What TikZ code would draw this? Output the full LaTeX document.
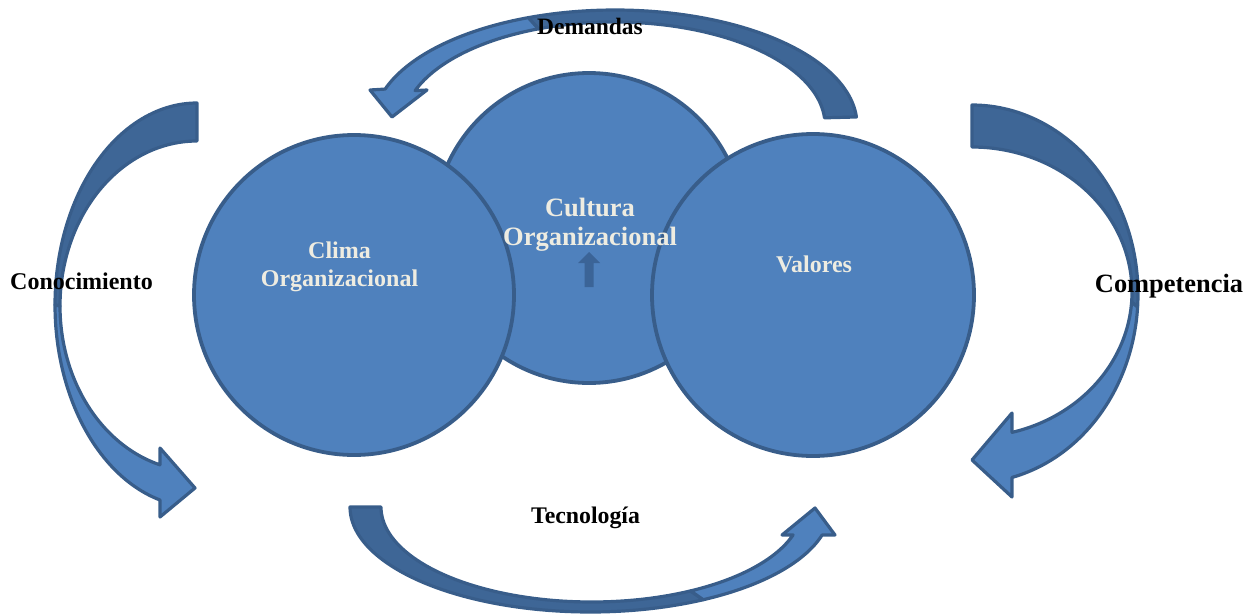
\documentclass[tikz,border=0pt]{standalone}
\usepackage{fontspec}
\setmainfont{Liberation Serif}
\definecolor{fillblue}{HTML}{4F81BD}
\definecolor{darkblue}{HTML}{3E6696}
\definecolor{lineblue}{HTML}{385D8A}
\definecolor{arrowin}{HTML}{3B6497}
\definecolor{txtlight}{HTML}{EEECE1}
\tikzset{
  bubble/.style={circle, fill=fillblue, draw=lineblue, line width=3.8pt, inner sep=0pt},
  backband/.style={fill=darkblue, draw=lineblue, line width=3.2pt, line join=round},
  frontband/.style={fill=fillblue, draw=lineblue, line width=3.2pt, line join=round},
  outlabel/.style={font=\bfseries, text=black, anchor=base, inner sep=0pt},
  inlabel/.style={font=\bfseries, text=txtlight, anchor=base, inner sep=0pt}
}
\begin{document}
\begin{tikzpicture}[x=1pt, y=-1pt]
\path[use as bounding box] (0,0) rectangle (1260,613);

% ---- top arrow (Demandas), tail right, head left
\path[backband] plot[domain=-4:-111, samples=60, variable=\t] ({615+242*cos(\t)},{125+115*sin(\t)})
  -- plot[domain=-111:-4, samples=60, variable=\t] ({614+211*cos(\t)},{125+103*sin(\t)}) -- cycle;
\path[frontband] plot[domain=-111:-161.8, samples=40, variable=\t] ({615+242*cos(\t)},{125+115*sin(\t)})
  -- (370,90) -- (392,117) -- (427,90)
  -- plot[domain=-160.5:-111, samples=40, variable=\t] ({614+211*cos(\t)},{125+103*sin(\t)}) -- cycle;

% ---- left arrow (Conocimiento), tail top, head bottom right
\path[backband] plot[domain=270:180, samples=60, variable=\t] ({197+142*cos(\t)},{305+202*sin(\t)})
  -- plot[domain=180:270, samples=60, variable=\t] ({197+137*cos(\t)},{306+165*sin(\t)}) -- cycle;
\path[frontband] plot[domain=180:105.1, samples=50, variable=\t] ({197+142*cos(\t)},{305+202*sin(\t)})
  -- (160,517) -- (195,488) -- (160,448)
  -- plot[domain=105.7:180, samples=50, variable=\t] ({197+137*cos(\t)},{306+165*sin(\t)}) -- cycle;

% ---- right arrow (Competencia), tail top, head bottom left
\path[backband] plot[domain=-90:4, samples=60, variable=\t] ({972+166*cos(\t)},{294+189*sin(\t)})
  -- plot[domain=4:-90, samples=60, variable=\t] ({972+160*cos(\t)},{292+145*sin(\t)}) -- cycle;
\path[frontband] plot[domain=4:76.05, samples=50, variable=\t] ({972+166*cos(\t)},{294+189*sin(\t)})
  -- (1012,497) -- (972,460) -- (1012,413)
  -- plot[domain=75.5:4, samples=50, variable=\t] ({972+160*cos(\t)},{292+145*sin(\t)}) -- cycle;

% ---- bottom arrow (Tecnologia), tail left, head right
\path[backband] plot[domain=180:62, samples=60, variable=\t] ({590.4+240.4*cos(\t)},{507+105*sin(\t)})
  -- plot[domain=62:180, samples=60, variable=\t] ({591.7+210.7*cos(\t)},{507+95*sin(\t)}) -- cycle;
\path[frontband] plot[domain=62:15.5, samples=40, variable=\t] ({590.4+240.4*cos(\t)},{507+105*sin(\t)})
  -- (835,535) -- (815,508) -- (782,535)
  -- plot[domain=17.1:62, samples=40, variable=\t] ({591.7+210.7*cos(\t)},{507+95*sin(\t)}) -- cycle;

% ---- circles
\node[bubble, minimum size=310pt] (cultura) at (589,228) {};
\node[bubble, minimum size=320pt] (clima) at (354,295) {};
\node[bubble, minimum size=322pt] (valores) at (813,295) {};

% small up arrow in Cultura
\fill[arrowin] (589,252) -- (600,263) -- (593.5,263) -- (593.5,287) -- (584.5,287) -- (584.5,263) -- (578,263) -- cycle;

% ---- circle texts
\node[inlabel, font=\fontsize{26.5}{30}\selectfont\bfseries] (cul1) at (590,216) {Cultura};
\node[inlabel, font=\fontsize{26.5}{30}\selectfont\bfseries] (cul2) at (590,245) {Organizacional};
\node[inlabel, font=\fontsize{24}{28}\selectfont\bfseries] (cli1) at (339.5,258) {Clima};
\node[inlabel, font=\fontsize{24}{28}\selectfont\bfseries] (cli2) at (339.5,286) {Organizacional};
\node[inlabel, font=\fontsize{24}{28}\selectfont\bfseries] (val) at (814,272) {Valores};

% ---- outer labels
\node[outlabel, font=\fontsize{23.5}{28}\selectfont\bfseries] (dem) at (590,34) {Demandas};
\node[outlabel, font=\fontsize{24}{28}\selectfont\bfseries] (con) at (81.5,289) {Conocimiento};
\node[outlabel, font=\fontsize{26.4}{30}\selectfont\bfseries] (com) at (1169,292) {Competencia};
\node[outlabel, font=\fontsize{23.8}{28}\selectfont\bfseries] (tec) at (585.5,523) {Tecnología};
\end{tikzpicture}
\end{document}
